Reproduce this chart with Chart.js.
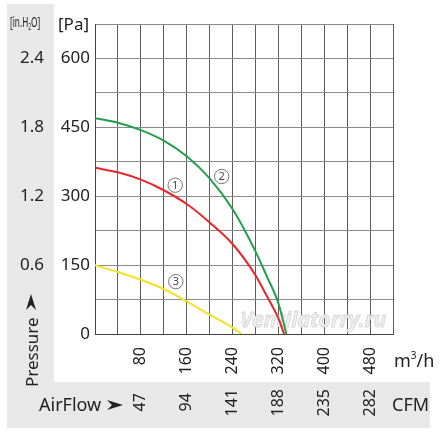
<!DOCTYPE html>
<html>
<head>
<meta charset="utf-8">
<script src="https://cdn.jsdelivr.net/npm/chart.js@4.4.1/dist/chart.umd.min.js"></script>
<style>
  html, body { margin: 0; padding: 0; background: #fff; }
  #wrap { width: 446px; height: 437px; }
</style>
</head>
<body>
<div id="wrap"><canvas id="grafica_ventilador" width="446" height="437"></canvas></div>
<script>
// airflow in m3/h, pressure in Pa
const flow1 = [0, 40, 80, 120, 160, 200, 240, 280, 300, 320, 330];
const pres1 = [362, 352, 336, 313, 283, 243, 196, 128, 82, 34, 0];
const flow2 = [0, 40, 80, 120, 160, 200, 240, 280, 300, 320, 334];
const pres2 = [470, 460, 444, 421, 387, 339, 272, 180, 125, 67, 0];
const flow3 = [0, 40, 80, 120, 160, 200, 240, 256];
const pres3 = [150, 135, 118, 98, 71, 42, 14, 0];

// tick labels
const m3hTicks = [80, 160, 240, 320, 400, 480];
const cfmTicks = ['47', '94', '141', '188', '235', '282'];
const paTicks = [0, 150, 300, 450, 600];
const inH2OTicks = ['', '0.6', '1.2', '1.8', '2.4'];

// curve number labels (position in data units)
const curveNames = ['1', '2', '3'];
const curveLabelX = [140, 221, 141];
const curveLabelY = [324, 343, 114];

const FONT = "'Noto Sans', 'DejaVu Sans', sans-serif";
const TEXT = '#222';

function toPoints(xs, ys) {
  return xs.map((x, i) => ({ x: x, y: ys[i] }));
}

function drawArrow(ctx, x, y, ang) {
  // stealth style arrowhead, tip at (x, y)
  ctx.save();
  ctx.translate(x, y);
  ctx.rotate(ang);
  ctx.beginPath();
  ctx.moveTo(0, 0);
  ctx.lineTo(-16, -5);
  ctx.lineTo(-11, 0);
  ctx.lineTo(-16, 5);
  ctx.closePath();
  ctx.fillStyle = TEXT;
  ctx.fill();
  ctx.restore();
}

const decorPlugin = {
  id: 'decor',
  beforeDraw(chart) {
    const ctx = chart.ctx;
    ctx.save();
    ctx.fillStyle = '#ffffff';
    ctx.fillRect(0, 0, chart.width, chart.height);
    ctx.fillStyle = '#e8e8e8';
    ctx.fillRect(7, 4, 47, 378);
    ctx.fillRect(7, 382, 423, 46);
    ctx.restore();
  },
  beforeDatasetsDraw(chart) {
    const ctx = chart.ctx;
    ctx.save();
    ctx.font = "italic bold 21px " + FONT;
    ctx.textAlign = 'left';
    ctx.textBaseline = 'alphabetic';
    ctx.fillStyle = '#eeeeee';
    ctx.strokeStyle = '#d6d6d6';
    ctx.lineWidth = 0.8;
    ctx.fillText('Ventilatorry.ru', 240, 327);
    ctx.strokeText('Ventilatorry.ru', 240, 327);
    ctx.restore();
  },
  afterDraw(chart) {
    const ctx = chart.ctx;
    const xs = chart.scales.x, ys = chart.scales.y;
    ctx.save();
    ctx.fillStyle = TEXT;
    ctx.textBaseline = 'alphabetic';

    // [in.H2O] unit, condensed
    ctx.save();
    ctx.translate(10, 27);
    ctx.scale(0.55, 1);
    ctx.font = "15px " + FONT;
    ctx.textAlign = 'left';
    let w = 0;
    ctx.fillText('[in.H', w, 0); w += ctx.measureText('[in.H').width;
    ctx.font = "9px " + FONT;
    ctx.fillText('2', w, 3); w += ctx.measureText('2').width;
    ctx.font = "15px " + FONT;
    ctx.fillText('O]', w, 0);
    ctx.restore();

    ctx.font = "17px " + FONT;
    ctx.textAlign = 'left';
    ctx.fillText('[Pa]', 58, 30);

    // m3/h and CFM units
    ctx.font = "18px " + FONT;
    ctx.fillText('m', 394, 367);
    let mw = ctx.measureText('m').width;
    ctx.font = "10px " + FONT;
    ctx.fillText('3', 394 + mw, 359);
    let sw = ctx.measureText('3').width;
    ctx.font = "18px " + FONT;
    ctx.fillText('/h', 394 + mw + sw, 367);
    ctx.fillText('CFM', 392, 411);

    // AirFlow label
    ctx.fillText('AirFlow', 39, 411);
    drawArrow(ctx, 123, 405, 0);

    // Pressure label, vertical
    ctx.save();
    ctx.translate(38, 387);
    ctx.rotate(-Math.PI / 2);
    ctx.font = "17px " + FONT;
    ctx.textAlign = 'left';
    ctx.fillText('Pressure', 0, 0);
    ctx.restore();
    drawArrow(ctx, 31, 294, -Math.PI / 2);

    // circled curve numbers
    ctx.strokeStyle = '#555';
    ctx.lineWidth = 0.8;
    ctx.fillStyle = '#444';
    ctx.font = "11px " + FONT;
    ctx.textAlign = 'center';
    ctx.textBaseline = 'middle';
    curveNames.forEach((n, i) => {
      const px = xs.getPixelForValue(curveLabelX[i]);
      const py = ys.getPixelForValue(curveLabelY[i]);
      ctx.beginPath();
      ctx.arc(px, py, 7.2, 0, Math.PI * 2);
      ctx.stroke();
      ctx.fillText(n, px, py + 0.5);
    });
    ctx.restore();
  }
};

const ctx = document.getElementById('grafica_ventilador').getContext('2d');
new Chart(ctx, {
  type: 'scatter',
  data: {
    datasets: [
      { label: '1', data: toPoints(flow1, pres1), borderColor: '#e8262b' },
      { label: '2', data: toPoints(flow2, pres2), borderColor: '#1fa04a' },
      { label: '3', data: toPoints(flow3, pres3), borderColor: '#f3e225' }
    ].map(d => Object.assign(d, {
      showLine: true, borderWidth: 2, pointRadius: 0, tension: 0.35,
      cubicInterpolationMode: 'monotone', fill: false
    }))
  },
  options: {
    responsive: false,
    animation: false,
    events: [],
    layout: { padding: { top: 24, right: 53, left: 0, bottom: 9 } },
    plugins: { legend: { display: false }, tooltip: { enabled: false } },
    scales: {
      x: {
        type: 'linear', position: 'bottom', min: 0, max: 520, weight: 0,
        grid: { color: '#5e5e5e', lineWidth: 1, drawTicks: false },
        border: { color: '#444', width: 1 },
        ticks: {
          stepSize: 40, autoSkip: false, minRotation: 90, maxRotation: 90, padding: 13,
          color: TEXT, font: { family: FONT, size: 16 },
          callback: v => m3hTicks.includes(v) ? String(v) : ''
        },
        afterFit: s => { s.height = 47; }
      },
      x2: {
        type: 'linear', position: 'bottom', min: 0, max: 520, weight: 1,
        grid: { display: false, drawTicks: false },
        border: { display: false },
        ticks: {
          stepSize: 40, autoSkip: false, minRotation: 90, maxRotation: 90, padding: 8,
          color: TEXT, font: { family: FONT, size: 16 },
          callback: v => {
            const i = m3hTicks.indexOf(v);
            if (i < 0) return '';
            return cfmTicks[i].length < 3 ? cfmTicks[i] + ' ' : cfmTicks[i];
          }
        },
        afterFit: s => { s.height = 47; }
      },
      y: {
        type: 'linear', position: 'left', min: 0, max: 675, weight: 0,
        grid: { color: '#8a8a8a', lineWidth: 1, drawTicks: false },
        border: { color: '#444', width: 1 },
        ticks: {
          stepSize: 75, autoSkip: false, padding: 5,
          color: TEXT, font: { family: FONT, size: 17 },
          callback: v => paTicks.includes(v) ? String(v) : ''
        },
        afterFit: s => { s.width = 41; }
      },
      y2: {
        type: 'linear', position: 'left', min: 0, max: 675, weight: 1,
        grid: { display: false, drawTicks: false },
        border: { display: false },
        ticks: {
          stepSize: 75, autoSkip: false, padding: 10,
          color: TEXT, font: { family: FONT, size: 17 },
          callback: v => {
            const i = paTicks.indexOf(v);
            return i < 0 ? '' : inH2OTicks[i];
          }
        },
        afterFit: s => { s.width = 54; }
      }
    }
  },
  plugins: [decorPlugin]
});
</script>
</body>
</html>
